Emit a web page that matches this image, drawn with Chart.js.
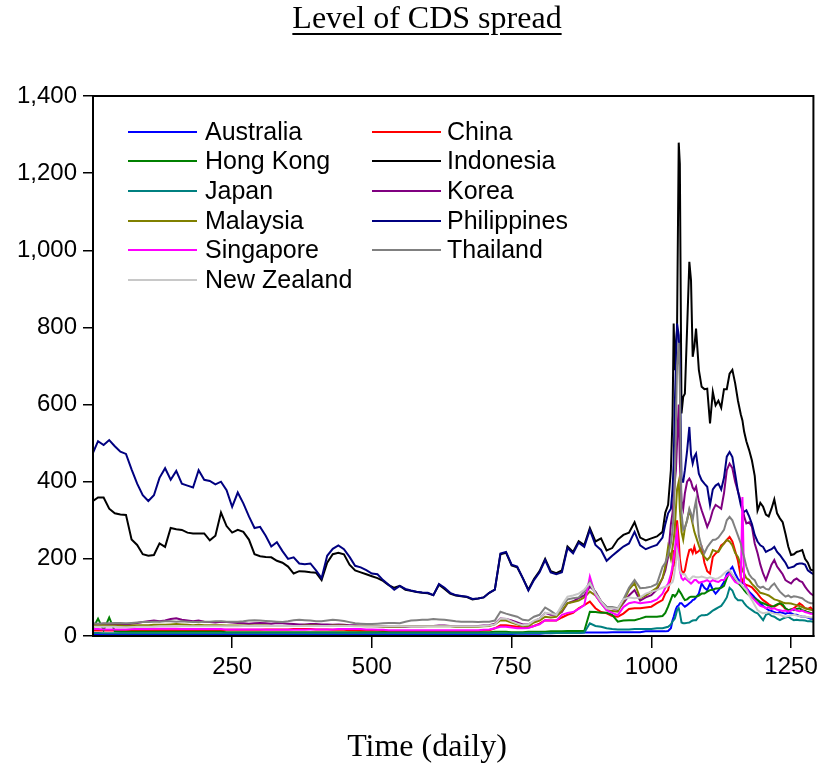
<!DOCTYPE html>
<html>
<head>
<meta charset="utf-8">
<script src="https://cdn.jsdelivr.net/npm/chart.js@4.4.1/dist/chart.umd.min.js"></script>
<style>
  html, body { margin:0; padding:0; background:#fff; }
  #wrap { position:relative; width:823px; height:767px; overflow:hidden; }
  #c { position:absolute; left:0; top:0; }
  #title { position:absolute; left:177px; width:500px; top:1px; text-align:center;
    font-family:"Liberation Serif","Times New Roman",serif; font-size:32px; line-height:32px;
    text-decoration:underline; text-decoration-thickness:2px; text-underline-offset:5px; color:#000; }
  #xlabel { position:absolute; left:177px; width:500px; top:729px; text-align:center;
    font-family:"Liberation Serif","Times New Roman",serif; font-size:32px; line-height:32px; color:#000; }
  .lg-line { position:absolute; height:2px; width:69px; }
  .lg-text { position:absolute; font-family:"Liberation Sans",Arial,sans-serif; font-size:25px;
    line-height:30px; color:#000; white-space:nowrap; }
</style>
</head>
<body>
<div id="wrap">
  <canvas id="c" width="823" height="767"></canvas>
  <div id="title">Level of CDS spread</div>
  <div id="xlabel">Time (daily)</div>
  <div id="legend"></div>
</div>
<script>
// ---- sample days (x positions of the readings) ----
const days = [1,10,20,30,40,50,60,70,80,90,
100,110,120,130,140,150,160,170,180,190,
200,210,220,230,240,250,260,270,280,290,
300,310,320,330,340,350,360,370,380,390,
400,410,420,430,440,450,460,470,480,490,
500,510,520,530,540,550,560,570,580,590,
600,610,620,630,640,650,660,670,680,690,
700,710,720,730,740,750,760,770,780,790,
800,810,820,830,840,850,860,870,880,890,
900,910,920,930,940,950,960,970,980,990,
1000,1010,1020,
1025,1030,1035,1038,1040,1042,1044,1046,1049,1051,1054,1057,1060,1064,1068,1071,1074,1077,1080,1085,
1090,1095,1100,1105,1110,1115,1120,1125,1130,1135,1140,1145,1150,1155,1160,1163,1166,1170,1175,1180,
1185,1190,1195,1200,
1205,1210,1215,1220,1225,1230,1235,1240,1245,1250,1255,1260,1265,1270,1275,1280,1285,1290];

// ---- series values ----
const australia = [4,4,4,4,4,4,4,4,4,4,
4,4,4,4,4,4,4,4,4,4,
4,4,4,4,4,4,4,4,4,4,
4,4,4,4,4,4,4,4,4,4,
4,4,4,4,4,4,4,4,4,4,
4,4,4,4,4,4,4,4,4,4,
4,4,4,4,4,4,4,4,4,4,
4,5,5,5,5,5,6,6,6,6,
6,7,7,8,8,8,8,8,9,9,
9,9,9,10,10,10,10,10,10,12,
12,12,12,
12,13,20,41,50,60,70,76,80,85,85,80,76,80,85,88,93,95,100,110,
136,125,119,136,120,110,118,128,140,160,170,179,162,148,140,138,136,125,115,108,
100,93,85,78,
72,67,65,62,59,62,60,58,60,59,56,55,52,50,50,48,45,45];

const china = [14,14,14,14,14,14,14,14,14,14,
14,15,15,15,15,15,15,15,15,15,
15,15,15,15,16,16,16,16,16,16,
16,17,17,17,17,17,18,18,18,18,
17,17,17,16,16,16,15,15,14,14,
14,14,13,13,13,13,13,13,13,13,
13,13,13,13,13,13,13,13,13,13,
14,15,20,28,28,26,24,22,22,26,
32,41,40,40,48,55,60,72,80,89,
72,62,59,52,50,58,70,72,72,74,
76,85,93,
110,119,150,171,223,180,240,300,250,200,170,162,170,200,223,225,215,231,215,220,
230,190,168,162,205,214,220,235,240,249,257,245,220,195,154,145,136,132,130,126,
118,110,100,93,
88,82,78,76,80,85,78,70,67,68,72,78,85,80,72,70,74,65];

const hongKong = [20,45,15,48,12,11,11,11,11,11,
11,11,11,11,11,11,11,11,11,11,
11,11,11,11,10,10,10,10,10,10,
10,10,10,10,10,10,10,10,10,10,
10,10,10,10,10,10,10,10,10,10,
10,10,10,10,10,10,10,10,10,10,
10,10,10,10,10,10,10,10,10,10,
10,10,11,11,11,10,10,10,11,11,
11,11,12,12,12,13,13,13,13,63,
62,60,60,55,37,40,41,41,45,50,
50,50,52,
60,76,95,106,106,102,106,110,120,115,108,100,93,95,100,102,102,102,102,105,
110,110,115,119,120,123,123,125,130,150,165,155,145,138,130,125,119,112,106,100,
97,93,88,85,
82,78,76,78,82,85,82,72,67,69,67,70,72,67,65,62,60,58];

const indonesia = [350,359,359,330,318,315,314,250,236,212,
208,210,240,231,280,277,275,268,266,266,
266,248,260,320,285,268,275,270,250,212,
207,205,204,195,190,180,162,168,167,165,
164,145,190,212,216,212,185,170,165,160,
155,150,143,132,125,130,120,117,114,112,
111,106,133,122,110,105,103,101,95,97,
100,112,120,212,216,183,178,150,120,148,
168,200,168,163,170,232,218,246,236,280,
245,253,222,228,250,262,268,295,255,248,
253,258,270,
320,340,430,572,810,689,760,793,1279,1224,577,620,628,797,970,922,724,750,797,690,
646,640,641,551,633,598,610,592,640,640,680,690,655,610,575,559,530,505,482,455,
415,325,345,335,
315,310,330,354,318,305,295,265,232,210,212,218,220,223,200,190,172,170];

const japan = [8,8,7,7,7,7,7,7,7,7,
7,7,7,7,7,7,7,7,7,7,
7,7,7,7,7,7,7,7,7,7,
7,7,7,7,7,7,7,7,7,7,
7,7,7,7,7,7,7,7,7,7,
7,7,7,7,7,7,7,7,7,7,
7,7,7,7,7,7,7,7,7,7,
7,7,7,7,7,7,7,7,8,8,
8,8,8,8,8,8,8,8,9,33,
26,24,20,18,17,17,17,18,18,18,
18,20,20,
22,24,30,38,41,45,55,67,72,60,35,33,33,34,35,38,40,41,41,50,
54,54,55,60,66,70,74,78,88,100,125,118,100,93,93,92,85,78,72,67,
62,59,50,41,
55,58,52,50,45,41,45,48,50,45,41,42,41,41,40,38,38,37];

const korea = [30,30,32,31,32,30,30,32,34,36,
38,40,38,40,44,46,42,40,38,40,
37,36,35,37,36,35,34,33,32,33,
34,33,32,34,33,32,31,30,30,31,
31,30,30,29,30,29,28,28,27,27,
26,25,25,24,24,24,24,25,26,25,
26,26,27,27,26,25,25,25,25,26,
27,28,32,45,44,40,35,30,30,38,
45,60,55,55,62,85,90,98,105,128,
115,90,75,72,68,85,105,119,92,100,
106,120,150,
170,205,290,320,360,400,430,500,600,450,350,330,370,400,408,400,385,378,387,350,
326,305,283,300,326,340,335,330,370,430,447,435,400,375,350,335,310,292,295,283,
240,215,185,162,
145,165,185,197,180,170,160,145,140,136,145,149,143,140,128,118,110,105];

const malaysia = [28,28,28,27,27,27,26,27,28,28,
28,29,29,29,30,31,30,29,28,29,
28,28,28,28,27,27,27,27,27,27,
27,27,26,26,26,26,26,26,27,27,
27,26,26,27,27,27,26,26,26,25,
25,25,24,24,24,24,25,25,25,25,
25,25,25,25,25,24,24,24,24,24,
25,26,30,41,40,35,30,25,25,35,
40,50,48,50,65,85,88,92,100,115,
105,85,67,65,63,90,120,137,98,105,
115,125,150,
180,231,200,230,250,280,330,380,400,330,270,250,280,300,326,310,290,270,257,235,
215,205,197,205,223,220,218,230,240,249,245,235,215,205,185,170,162,150,145,135,
128,120,112,110,
108,105,100,95,93,90,87,85,85,84,82,80,78,75,72,70,68,67];

const philippines = [475,505,495,508,492,478,472,432,395,365,
350,365,410,435,405,428,395,390,385,430,
405,402,393,400,378,335,372,344,310,280,
283,260,232,243,220,200,204,188,186,188,
170,150,208,226,235,225,205,182,178,171,
162,160,145,133,120,130,122,118,115,113,
112,106,135,125,112,106,104,102,96,97,
100,112,120,214,218,185,180,150,118,145,
165,197,165,160,165,228,214,242,231,275,
236,223,195,208,220,232,240,270,235,225,
231,236,255,
290,318,330,380,450,600,700,810,780,700,400,400,430,480,542,470,447,465,473,421,
404,395,387,340,380,390,395,380,410,465,477,464,420,375,340,325,322,326,310,290,
262,245,235,231,
218,222,225,231,218,210,200,190,176,178,180,186,188,188,185,170,165,160];

const singapore = [18,18,17,17,17,17,17,18,18,18,
18,19,19,19,19,19,18,18,18,18,
18,18,18,18,17,17,17,17,17,17,
17,16,16,16,16,16,16,16,16,17,
17,17,17,17,18,18,18,18,18,17,
17,16,16,15,15,15,15,15,15,15,
15,15,15,15,15,15,15,15,15,15,
16,17,20,24,24,22,20,20,21,26,
30,41,40,40,55,60,62,70,80,154,
106,85,67,60,54,75,85,88,85,87,
89,95,110,
125,135,160,180,200,220,250,270,200,170,150,145,150,145,140,136,140,145,145,138,
140,142,145,140,145,142,140,145,145,155,162,150,140,136,138,360,136,125,110,100,
93,85,78,76,
72,75,70,72,68,67,65,66,63,66,70,66,64,66,62,60,58,58];

const thailand = [33,32,33,33,34,34,33,34,35,36,
36,37,37,38,38,37,38,37,36,36,
37,37,38,38,37,37,37,38,40,41,
40,39,38,37,36,38,41,42,41,40,
38,38,40,42,41,39,36,33,32,31,
31,32,33,34,34,33,37,40,41,42,
42,44,43,42,40,38,37,37,37,36,
37,37,40,63,58,54,50,42,40,50,
55,74,65,55,75,95,98,100,115,141,
112,90,76,75,72,95,125,145,124,125,
128,135,179,
190,210,240,275,320,400,550,700,760,650,320,275,280,300,330,318,300,330,352,260,
231,215,230,240,249,250,255,265,275,300,309,300,280,260,240,220,205,180,160,150,
145,130,125,128,
122,120,130,136,125,115,108,102,105,100,103,102,100,98,92,88,85,85];

const newZealand = [24,24,24,24,24,23,23,23,24,24,
24,24,25,25,25,25,25,25,25,25,
25,25,25,25,25,25,25,26,26,26,
26,26,26,26,26,26,26,26,26,26,
26,26,26,26,26,26,26,25,25,25,
25,25,25,25,25,25,25,25,25,25,
25,25,25,25,25,25,25,25,25,25,
26,27,30,45,45,38,32,28,30,40,
45,60,58,55,80,102,105,110,120,137,
110,90,72,72,70,95,100,98,100,110,
115,119,125,
128,130,136,140,150,170,190,220,200,170,162,160,160,150,145,150,154,154,152,152,
154,152,150,152,150,148,150,155,162,168,171,160,150,140,136,130,125,119,105,93,
80,67,62,59,
60,62,60,58,57,55,52,50,52,54,55,53,52,50,50,49,48,48];

const seriesNames = ['Australia','China','Hong Kong','Indonesia','Japan','Korea','Malaysia','Philippines','Singapore','Thailand','New Zealand'];
const seriesValues = [australia, china, hongKong, indonesia, japan, korea, malaysia, philippines, singapore, thailand, newZealand];
const seriesColors = ['#0000FF','#FF0000','#008000','#000000','#008080','#800080','#808000','#000080','#FF00FF','#808080','#C8C8C8'];

const xTicks = [250, 500, 750, 1000, 1250];
const yTicks = [0, 200, 400, 600, 800, 1000, 1200, 1400];

seriesValues.forEach((s, i) => { if (s.length !== days.length) console.warn(seriesNames[i] + ' length ' + s.length + ' vs ' + days.length); });

// ---- legend (HTML) ----
const legend = document.getElementById('legend');
seriesNames.forEach((name, i) => {
  const col = i % 2, row = Math.floor(i / 2);
  const cy = 131.5 + 29.7 * row;
  const line = document.createElement('div');
  line.className = 'lg-line';
  line.style.left = (col ? 372 : 128) + 'px';
  line.style.top = (cy - 1) + 'px';
  line.style.background = seriesColors[i];
  legend.appendChild(line);
  const t = document.createElement('div');
  t.className = 'lg-text';
  t.style.left = (col ? 447 : 205) + 'px';
  t.style.top = (cy - 16) + 'px';
  t.textContent = name;
  legend.appendChild(t);
});

// ---- chart ----
const framePlugin = {
  id: 'frame',
  afterDraw(chart) {
    const a = chart.chartArea, ctx = chart.ctx;
    ctx.save();
    ctx.strokeStyle = '#000';
    ctx.lineWidth = 2;
    ctx.strokeRect(a.left, a.top, a.right - a.left, a.bottom - a.top);
    ctx.restore();
  }
};

const datasets = seriesNames.map((name, i) => ({
  label: name,
  data: days.map((d, k) => ({ x: d, y: seriesValues[i][k] })),
  borderColor: seriesColors[i],
  backgroundColor: seriesColors[i],
  borderWidth: 2,
  pointRadius: 0,
  tension: 0,
  fill: false,
  order: -i
}));

new Chart(document.getElementById('c'), {
  type: 'line',
  data: { datasets },
  options: {
    responsive: false,
    animation: false,
    devicePixelRatio: 1,
    layout: { padding: { left: 0, right: 8, top: 96, bottom: 0 } },
    plugins: { legend: { display: false }, title: { display: false }, tooltip: { enabled: false } },
    scales: {
      x: {
        type: 'linear', min: 1, max: 1290,
        afterFit(s) { s.height = 131; },
        afterBuildTicks(s) { s.ticks = xTicks.map(v => ({ value: v })); },
        grid: { display: true, drawOnChartArea: false, drawTicks: true, tickLength: 12, color: '#000', lineWidth: 1.5 },
        border: { display: true, color: '#000', width: 2 },
        ticks: { color: '#000', padding: 5, maxRotation: 0, autoSkip: false,
          font: { family: '"Liberation Sans", Arial, sans-serif', size: 24 },
          callback: v => String(v) }
      },
      y: {
        type: 'linear', min: 0, max: 1400,
        afterFit(s) { s.width = 93; },
        afterBuildTicks(s) { s.ticks = yTicks.map(v => ({ value: v })); },
        grid: { display: true, drawOnChartArea: false, drawTicks: true, tickLength: 10, color: '#000', lineWidth: 1.5 },
        border: { display: true, color: '#000', width: 2 },
        ticks: { color: '#000', padding: 6,
          font: { family: '"Liberation Sans", Arial, sans-serif', size: 24 },
          callback: v => Number(v).toLocaleString('en-US') }
      }
    }
  },
  plugins: [framePlugin]
});
</script>
</body>
</html>
